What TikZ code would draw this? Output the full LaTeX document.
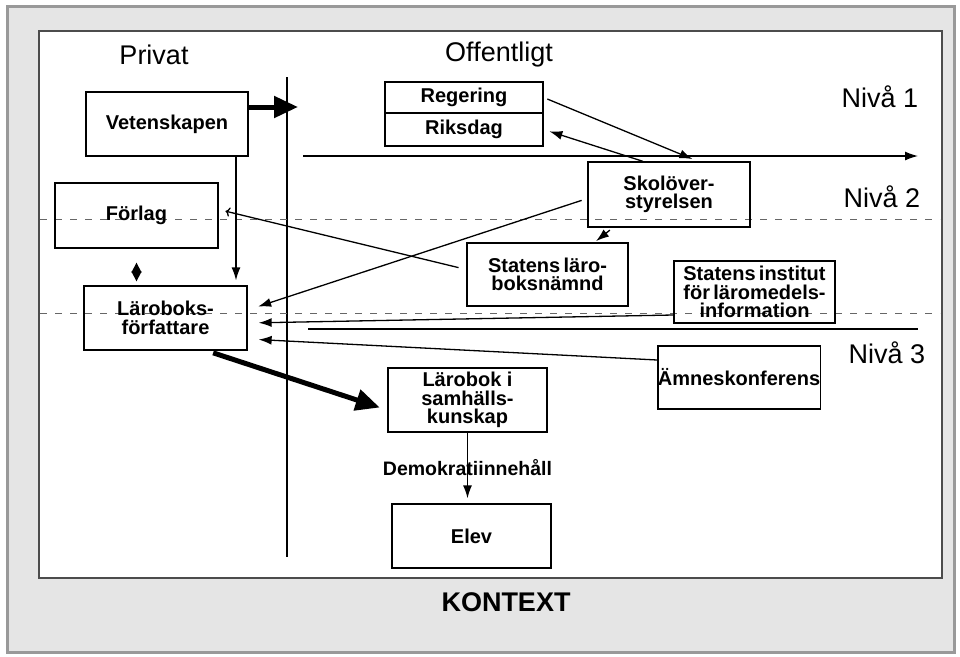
\documentclass[tikz,border=0pt]{standalone}
\usepackage{fontspec}
\setmainfont{Liberation Sans}
\usetikzlibrary{arrows.meta}

\begin{document}
\begin{tikzpicture}[x=1pt,y=-1pt,
    box/.style={draw,line width=1.3pt,inner sep=0pt,align=center,
        minimum width=162pt,minimum height=64pt,font=\fontsize{20}{18.5}\selectfont\bfseries},
    head/.style={font=\fontsize{27}{30}\selectfont},
    arr/.style={line width=1.3pt,-{Latex[length=13pt,width=9pt]}},
    fat/.style={line width=5pt,-{Triangle[length=24pt,width=21pt]}},
    faint/.style={black!60,line width=1pt,dash pattern=on 7pt off 8pt}]
    \useasboundingbox (0,0) rectangle (960,656);

    % frame
    \fill[black!10] (6,5) rectangle (956,654);
    \draw[black!40,line width=3pt] (7.5,6.5) rectangle (954.5,652.5);
    \filldraw[fill=white,draw=black!70,line width=2pt] (39,31) rectangle (942,578);

    % headings
    \node[head] (privat) at (154,55) {Privat};
    \node[head] (offentligt) at (499,55) {Offentligt};
    \node[head] (niva1) at (880,97) {Nivå 1};
    \node[head] (niva2) at (882,197) {Nivå 2};
    \node[head] (niva3) at (887,353) {Nivå 3};
    \node[head,font=\fontsize{27}{30}\selectfont\bfseries] (kontext) at (506,602) {KONTEXT};

    % divider and levels
    \coordinate (va) at (287,77);   \coordinate (vb) at (287,557);
    \coordinate (n1a) at (303,156); \coordinate (n1b) at (918,156);
    \coordinate (n2a) at (308,329); \coordinate (n2b) at (918,329);
    \coordinate (d1a) at (40,219);  \coordinate (d1b) at (940,219);
    \coordinate (d2a) at (40,313);  \coordinate (d2b) at (940,313);
    \draw[line width=1.3pt] (va) -- (vb);
    \draw[arr] (n1a) -- (n1b);
    \draw[line width=1.3pt] (n2a) -- (n2b);
    \draw[faint] (d1a) -- (d1b);
    \draw[faint] (d2a) -- (d2b);

    % boxes
    \node[box] (vet) at (167,124) {Vetenskapen};
    \node[box,minimum width=163pt,minimum height=65pt] (forlag) at (136.5,215.5) {Förlag};
    \node[box,minimum width=163pt] (larob) at (165.5,318) {Läroboks-\\författare};
    \node[box,minimum width=158pt,minimum height=31pt] (regering) at (464,97.5) {Regering};
    \node[box,minimum width=158pt,minimum height=33pt] (riksdag) at (464,129.5) {Riksdag};
    \node[box,minimum height=65pt] (skol) at (669,194.5) {Skolöver-\\styrelsen};
    \node[box,minimum width=161pt,minimum height=63pt] (snamnd) at (547.5,274.5) {Statens\,läro-\\boksnämnd};
    \node[box,minimum width=161pt,minimum height=62pt] (sinst) at (754.5,292) {Statens\,institut\\för\,läromedels-\\information};
    \node[box,minimum height=63pt] (amne) at (739,377.5) {Ämneskonferens};
    \node[box,minimum width=159pt] (lbok) at (467.5,400) {Lärobok i\\samhälls-\\kunskap};
    \node[box,minimum width=159pt] (elev) at (471.5,536) {Elev};

    % connections
    \draw[fat] (vet.east |- 0,107) -- (298,107);
    \draw[arr,shorten >=5pt] ([xshift=69pt]vet.south) -- ([xshift=69pt]vet.south |- larob.north);
    \draw[line width=1.3pt,{Triangle[length=10pt,width=10pt]}-{Triangle[length=10pt,width=10pt]},
        shorten <=14pt,shorten >=4pt] (forlag.south) -- (forlag.south |- larob.north);
    \draw[arr,shorten <=4pt,shorten >=6pt] (regering.east) -- ([xshift=29pt]skol.north);
    \draw[arr,shorten >=6pt] ([xshift=-26pt]skol.north) -- (riksdag.east);
    \draw[arr,shorten <=6pt,shorten >=11pt] ([yshift=-4pt]skol.west) -- ([yshift=8pt]larob.east);
    \draw[arr,shorten <=4pt,shorten >=2pt] ([xshift=-56pt]skol.south) -- ([xshift=47pt]snamnd.north);
    \draw[arr,<-,shorten <=7pt,shorten >=8pt] ([yshift=6pt]forlag.east) -- ([yshift=5pt]snamnd.west);
    \draw[arr,shorten >=11pt] ([yshift=-23pt]sinst.west) -- ([yshift=-5pt]larob.east);
    \draw[arr,shorten >=11pt] ([yshift=17.5pt]amne.west) -- ([yshift=-21pt]larob.east);
    \draw[fat,shorten <=7pt,shorten >=8pt] ([xshift=41pt]larob.south) -- ([yshift=-10pt]lbok.west);
    \draw[arr,shorten >=5pt] (lbok.south) -- (lbok.south |- elev.north)
        node[midway,font=\fontsize{19.5}{18.5}\selectfont\bfseries] (demo) {Demokratiinnehåll};
\end{tikzpicture}
\end{document}
